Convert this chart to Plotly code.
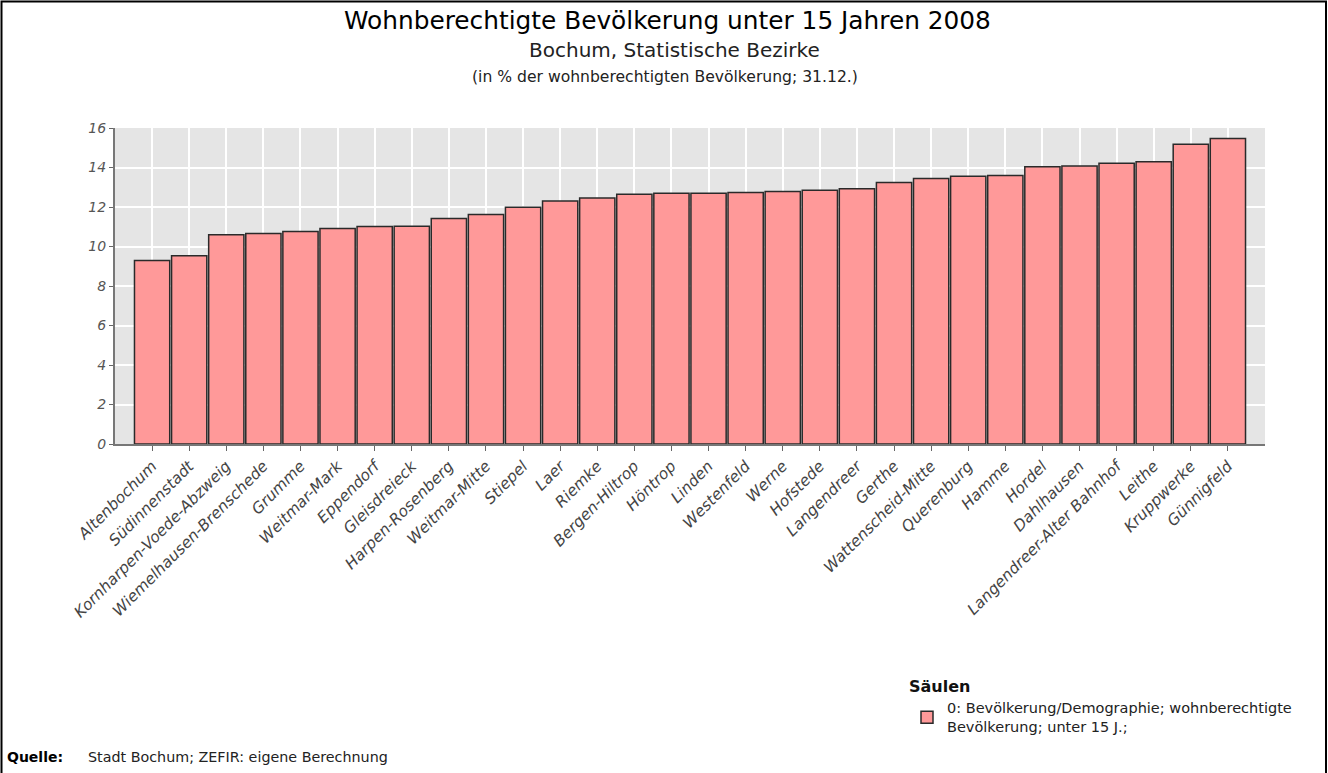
import plotly.graph_objects as go

categories = ["Altenbochum", "Südinnenstadt", "Kornharpen-Voede-Abzweig", "Wiemelhausen-Brenschede",
              "Grumme", "Weitmar-Mark", "Eppendorf", "Gleisdreieck", "Harpen-Rosenberg", "Weitmar-Mitte",
              "Stiepel", "Laer", "Riemke", "Bergen-Hiltrop", "Höntrop", "Linden", "Westenfeld", "Werne",
              "Hofstede", "Langendreer", "Gerthe", "Wattenscheid-Mitte", "Querenburg", "Hamme", "Hordel",
              "Dahlhausen", "Langendreer-Alter Bahnhof", "Leithe", "Kruppwerke", "Günnigfeld"]
values = [9.29, 9.53, 10.59, 10.66, 10.76, 10.91, 11.01, 11.02, 11.42, 11.62,
          11.99, 12.31, 12.45, 12.65, 12.69, 12.70, 12.73, 12.78,
          12.85, 12.93, 13.24, 13.44, 13.56, 13.60, 14.04,
          14.08, 14.22, 14.29, 15.18, 15.47]
y_ticks = [0, 2, 4, 6, 8, 10, 12, 14, 16]

title = "Wohnberechtigte Bevölkerung unter 15 Jahren 2008"
subtitle = "Bochum, Statistische Bezirke"
subtitle2 = "(in % der wohnberechtigten Bevölkerung; 31.12.)"
series_name = "0: Bevölkerung/Demographie; wohnberechtigte<br>Bevölkerung; unter 15 J.;"

W, H = 1328, 773
L, R, T, B = 115, 1265, 128, 444


def px(x):
    return (x - L) / (R - L)


def py(y):
    return (B - y) / (B - T)


fig = go.Figure()
fig.add_trace(go.Bar(
    x=categories, y=values, name=series_name,
    marker=dict(color="#FF9999", line=dict(color="#2a2a2a", width=1.5)),
    showlegend=True,
))

fig.update_layout(
    width=W, height=H,
    margin=dict(l=L, r=W - R, t=T, b=H - B, autoexpand=False),
    paper_bgcolor="white",
    plot_bgcolor="#E5E5E5",
    bargap=0.05,
    font=dict(family="DejaVu Sans", color="#333333"),
    xaxis=dict(
        type="category", range=[-1, 30],
        tickangle=-45, tickfont=dict(size=15.5, family="DejaVu Sans", style="italic", color="#444444"),
        showgrid=True, gridcolor="white", gridwidth=1.5,
        ticks="outside", ticklen=5, tickcolor="#666666",
        showline=True, linecolor="#777777", linewidth=2,
        fixedrange=True,
    ),
    yaxis=dict(
        range=[0, 16], tickvals=y_ticks,
        tickfont=dict(size=14, family="DejaVu Sans", style="italic", color="#555555"),
        showgrid=True, gridcolor="white", gridwidth=1.5,
        ticks="outside", ticklen=4, tickcolor="#666666",
        showline=True, linecolor="#777777", linewidth=2,
        zeroline=False, fixedrange=True,
    ),
    legend=dict(
        x=px(907), y=py(671), xanchor="left", yanchor="top",
        title=dict(text="<b>Säulen</b>", font=dict(size=16, family="DejaVu Sans", color="#111111")),
        font=dict(size=14.5, family="DejaVu Sans", color="#222222"),
        bgcolor="rgba(0,0,0,0)",
    ),
    shapes=[
        dict(type="rect", xref="paper", yref="paper",
             x0=px(1.5), x1=px(1326), y0=py(780), y1=py(1.5),
             line=dict(color="black", width=2), fillcolor="rgba(0,0,0,0)", layer="above"),
    ],
    annotations=[
        dict(text=title, xref="paper", yref="paper", x=px(667), y=py(21), xanchor="center", yanchor="middle",
             showarrow=False, font=dict(family="DejaVu Sans", size=24.8, color="black")),
        dict(text=subtitle, xref="paper", yref="paper", x=px(674), y=py(50), xanchor="center", yanchor="middle",
             showarrow=False, font=dict(family="DejaVu Sans", size=20, color="#222222")),
        dict(text=subtitle2, xref="paper", yref="paper", x=px(665), y=py(77), xanchor="center", yanchor="middle",
             showarrow=False, font=dict(family="DejaVu Sans", size=15.6, color="#222222")),
        dict(text="<b>Quelle:</b>", xref="paper", yref="paper", x=px(5), y=py(757), xanchor="left", yanchor="middle",
             showarrow=False, font=dict(family="DejaVu Sans", size=14, color="black")),
        dict(text="Stadt Bochum; ZEFIR: eigene Berechnung", xref="paper", yref="paper", x=px(86), y=py(757),
             xanchor="left", yanchor="middle",
             showarrow=False, font=dict(family="DejaVu Sans", size=14.3, color="#222222")),
    ],
)

fig.write_html("out.html", config={"displayModeBar": False},
               post_script="document.body.style.margin='0px';")
